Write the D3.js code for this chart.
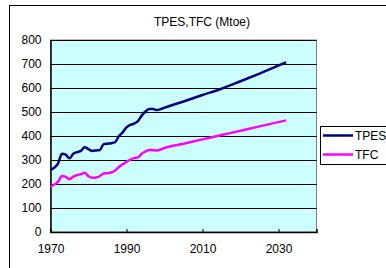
<!DOCTYPE html>
<html lang="en">
<head>
<meta charset="UTF-8">
<title>TPES,TFC (Mtoe)</title>
<script src="https://d3js.org/d3.v7.min.js"></script>
<style>
  body { margin: 0; background: #fff; }
  text { font-family: "Liberation Sans", Arial, sans-serif; font-size: 12px; fill: #000; }
  .grid line { stroke: #000; stroke-width: 1px; }
</style>
</head>
<body>
<div id="chart"></div>
<script>
// history yearly, projection afterwards
const years = [1970,1971,1972,1973,1974,1975,1976,1977,1978,1979,1980,1981,1982,1983,1984,1985,
  1986,1987,1988,1989,1990,1991,1992,1993,1994,1995,1996,1997,1998,1999,2000,2005,2010,2015,2020,2025,2032];
const tpes = [258,268,286,326,322,307,326,333,338,353,345,338,340,342,366,368,
  370,374,400,415,436,446,452,462,485,502,512,512,508,512,518,544,571,597,628,660,707];
const tfc = [189,198,210,233,230,220,231,237,241,247,232,226,227,233,244,245,
  248,256,271,282,293,302,308,311,326,336,342,341,340,344,350,368,386,404,422,440,465];
const seriesNames = ["TPES", "TFC"];
const seriesColors = ["#000080", "#ff00ff"];
const xTicks = [1970, 1990, 2010, 2030];
const yTicks = [0,100,200,300,400,500,600,700,800];

const W = 386, H = 268;
const m = {left: 50.5, top: 40, right: 316.5, bottom: 232};

const svg = d3.select("#chart").append("svg")
  .attr("width", W).attr("height", H);

// outer chart frame
svg.append("rect")
  .attr("x", 9.5).attr("y", 5.5).attr("width", 400).attr("height", 300)
  .attr("fill", "#fff").attr("stroke", "#000");

const x = d3.scaleLinear().domain([1970, 2040]).range([m.left, m.right]);
const y = d3.scaleLinear().domain([0, 800]).range([m.bottom, m.top]);

svg.append("text")
  .attr("x", 202).attr("y", 26)
  .attr("text-anchor", "middle")
  .text("TPES,TFC (Mtoe)");

// plot area
svg.append("rect")
  .attr("x", m.left).attr("y", m.top)
  .attr("width", m.right - m.left).attr("height", m.bottom - m.top)
  .attr("fill", "#ccffff").attr("stroke", "#808080");

svg.append("g").attr("class", "grid")
  .selectAll("line").data(yTicks.slice(1)).enter().append("line")
  .attr("x1", m.left).attr("x2", m.right)
  .attr("y1", d => Math.round(y(d)) + 0.5).attr("y2", d => Math.round(y(d)) + 0.5);

// axes
const yAxis = svg.append("g")
  .attr("transform", `translate(${m.left},0)`)
  .call(d3.axisLeft(y).tickValues(yTicks).tickSize(0).tickPadding(9));
yAxis.select(".domain").attr("stroke", "#000").attr("stroke-width", 1.5);
yAxis.selectAll("text").style("font-size", "12px");

const xAxis = svg.append("g")
  .attr("transform", `translate(0,${m.bottom})`)
  .call(d3.axisBottom(x).tickValues(xTicks).tickFormat(d3.format("d")).tickSize(-3).tickPadding(12));
xAxis.select(".domain").attr("stroke", "#000").attr("stroke-width", 1.5);
xAxis.selectAll(".tick line").attr("stroke", "#000");
xAxis.selectAll("text").style("font-size", "12px");

// lines
const line = d3.line().x((d, i) => x(years[i])).y(d => y(d)).curve(d3.curveMonotoneX);
[tpes, tfc].forEach((s, k) => {
  svg.append("path").datum(s)
    .attr("d", line)
    .attr("fill", "none")
    .attr("stroke", seriesColors[k])
    .attr("stroke-width", 2.5)
    .attr("stroke-linejoin", "round");
});

// legend
const lg = svg.append("g");
lg.append("rect")
  .attr("x", 320.5).attr("y", 126.5).attr("width", 80).attr("height", 38)
  .attr("fill", "#fff").attr("stroke", "#000");
seriesNames.forEach((n, k) => {
  const ly = 135.5 + k * 19;
  lg.append("line")
    .attr("x1", 323).attr("x2", 353).attr("y1", ly).attr("y2", ly)
    .attr("stroke", seriesColors[k]).attr("stroke-width", 2.5);
  lg.append("text")
    .attr("x", 355).attr("y", ly + 4)
    .text(n);
});
</script>
</body>
</html>
